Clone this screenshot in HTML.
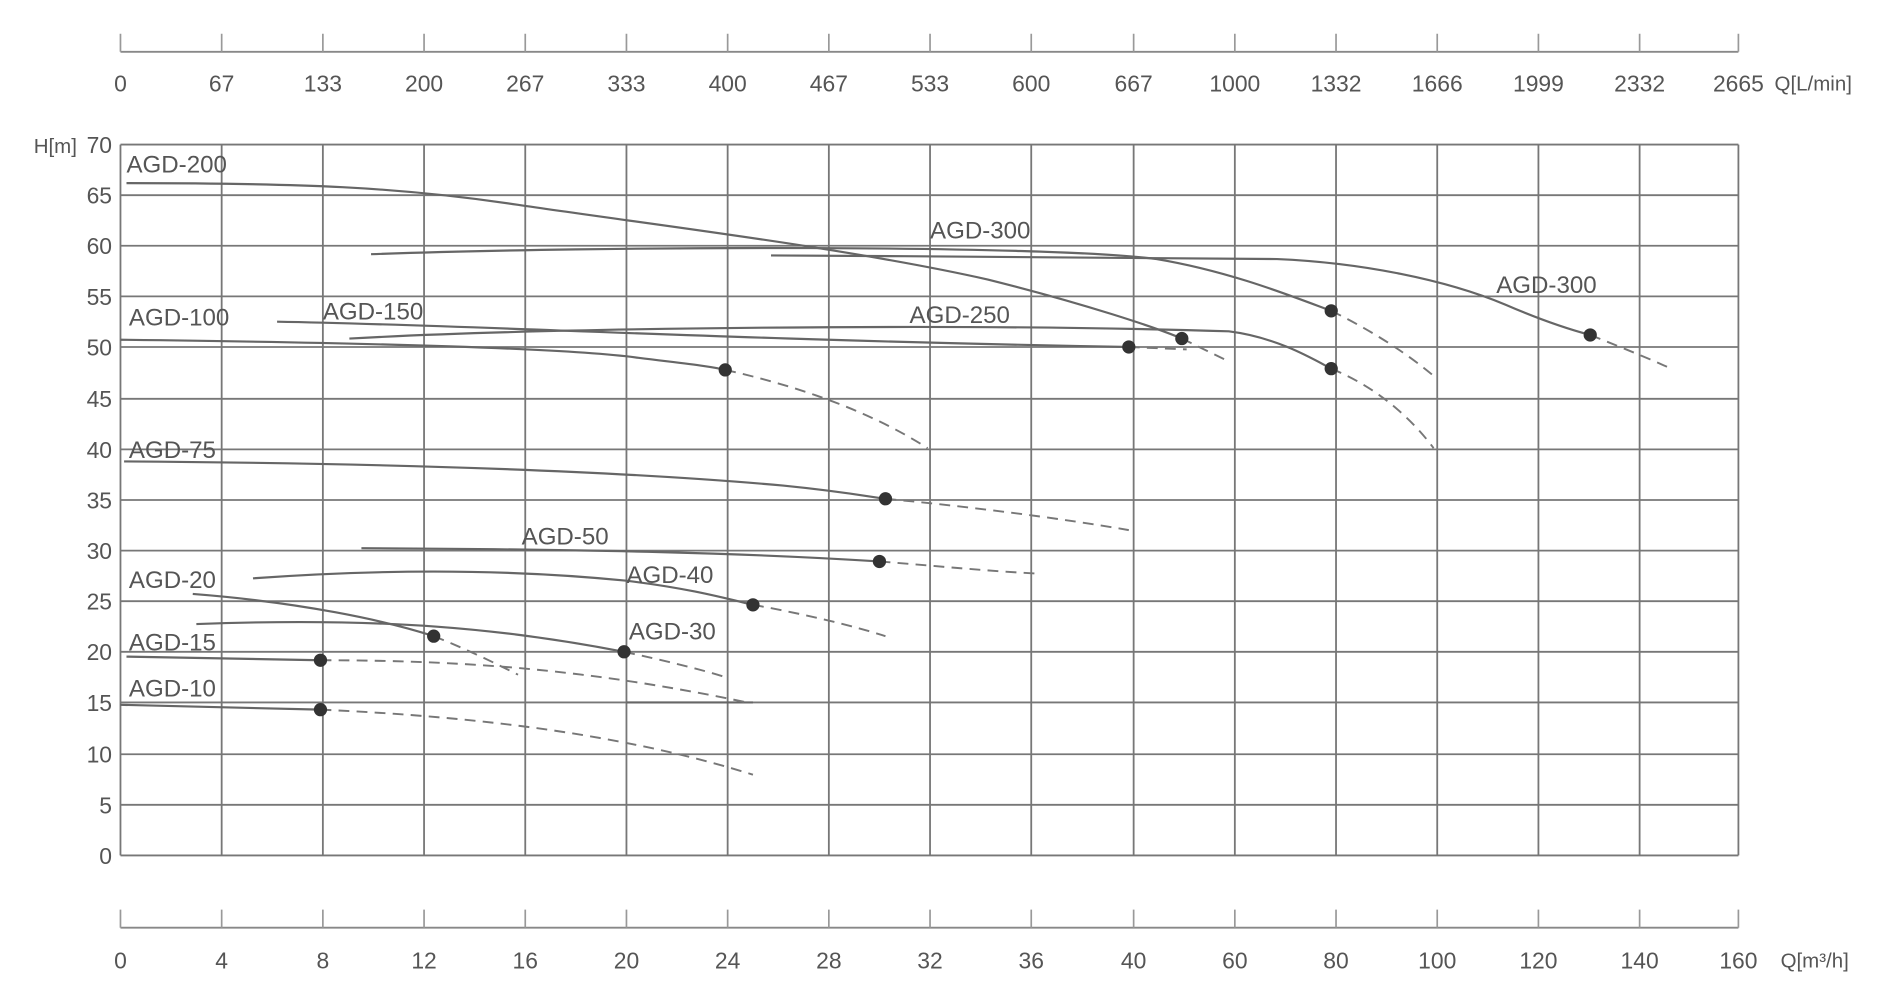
<!DOCTYPE html>
<html><head><meta charset="utf-8"><style>
html,body{margin:0;padding:0;background:#fff;}
svg{display:block;}
text{font-family:"Liberation Sans",sans-serif;fill:#555;}
</style></head><body>
<svg width="1889" height="1000" viewBox="0 0 1568 830" preserveAspectRatio="none" xmlns="http://www.w3.org/2000/svg">
<g stroke="#888" stroke-width="1.6" fill="none">
<line x1="100" y1="43" x2="1443" y2="43"/>
<line x1="100" y1="770" x2="1443" y2="770"/>
</g>
<g stroke="#999" stroke-width="1.4">
<path d="M100 43V28M184 43V28M268 43V28M352 43V28M436 43V28M520 43V28M604 43V28M688 43V28M772 43V28M856 43V28M941 43V28M1025 43V28M1109 43V28M1193 43V28M1277 43V28M1361 43V28M1443 43V28"/>
<path d="M100 770V755M184 770V755M268 770V755M352 770V755M436 770V755M520 770V755M604 770V755M688 770V755M772 770V755M856 770V755M941 770V755M1025 770V755M1109 770V755M1193 770V755M1277 770V755M1361 770V755M1443 770V755"/>
</g>
<g stroke="#777" stroke-width="1.5">
<path d="M100 120H1443M100 162H1443M100 204H1443M100 246H1443M100 288H1443M100 331H1443M100 373H1443M100 415H1443M100 457H1443M100 499H1443M100 541H1443M100 583H1443M100 626H1443M100 668H1443M100 710H1443"/>
<path d="M100 120V710M184 120V710M268 120V710M352 120V710M436 120V710M520 120V710M604 120V710M688 120V710M772 120V710M856 120V710M941 120V710M1025 120V710M1109 120V710M1193 120V710M1277 120V710M1361 120V710M1443 120V710"/>
</g>
<g font-size="19" text-anchor="middle">
<text x="100" y="76">0</text><text x="184" y="76">67</text><text x="268" y="76">133</text><text x="352" y="76">200</text><text x="436" y="76">267</text><text x="520" y="76">333</text><text x="604" y="76">400</text><text x="688" y="76">467</text><text x="772" y="76">533</text><text x="856" y="76">600</text><text x="941" y="76">667</text><text x="1025" y="76">1000</text><text x="1109" y="76">1332</text><text x="1193" y="76">1666</text><text x="1277" y="76">1999</text><text x="1361" y="76">2332</text><text x="1443" y="76">2665</text>
<text x="100" y="804">0</text><text x="184" y="804">4</text><text x="268" y="804">8</text><text x="352" y="804">12</text><text x="436" y="804">16</text><text x="520" y="804">20</text><text x="604" y="804">24</text><text x="688" y="804">28</text><text x="772" y="804">32</text><text x="856" y="804">36</text><text x="941" y="804">40</text><text x="1025" y="804">60</text><text x="1109" y="804">80</text><text x="1193" y="804">100</text><text x="1277" y="804">120</text><text x="1361" y="804">140</text><text x="1443" y="804">160</text>
</g>
<g font-size="19" text-anchor="end">
<text x="93" y="127">70</text><text x="93" y="169">65</text><text x="93" y="211">60</text><text x="93" y="253">55</text><text x="93" y="295">50</text><text x="93" y="338">45</text><text x="93" y="380">40</text><text x="93" y="422">35</text><text x="93" y="464">30</text><text x="93" y="506">25</text><text x="93" y="548">20</text><text x="93" y="590">15</text><text x="93" y="633">10</text><text x="93" y="675">5</text><text x="93" y="717">0</text>
</g>
<text x="28" y="127" font-size="17">H[m]</text>
<text x="1473" y="75" font-size="17">Q[L/min]</text>
<text x="1478" y="803" font-size="17">Q[m³/h]</text>
<g fill="none" stroke="#666" stroke-width="1.8">
<path d="M105 152C250 152 330 155 430 170C530 185 700 205 820 232C900 252 960 272 981 281"/>
<path d="M308 211C500 204 870 203 960 215C1020 225 1070 245 1105 258"/>
<path d="M640 212C800 213 1000 214 1060 215C1130 218 1200 232 1250 253C1280 266 1305 274 1320 278"/>
<path d="M290 281C450 272 800 268 1020 275C1060 280 1090 298 1105 306"/>
<path d="M230 267C400 270 600 282 937 288"/>
<path d="M100 282C350 285 480 290 530 297C570 302 590 304 602 307"/>
<path d="M103 383C400 385 560 395 650 403C700 408 720 412 735 414"/>
<path d="M300 455C500 456 620 459 730 466"/>
<path d="M210 480C350 470 450 475 520 482C570 488 600 496 625 502"/>
<path d="M163 518C320 512 420 522 518 541"/>
<path d="M160 493C250 500 320 515 360 528"/>
<path d="M105 545L266 548"/>
<path d="M100 585L266 589"/>
<path d="M520 583L625 583"/>
</g>
<g fill="none" stroke="#777" stroke-width="1.6" stroke-dasharray="9 6">
<path d="M981 281L1020 300"/>
<path d="M1105 258C1140 275 1170 295 1190 312"/>
<path d="M1320 278C1345 288 1365 296 1385 305"/>
<path d="M1105 306C1140 320 1170 345 1190 372"/>
<path d="M937 288L985 290"/>
<path d="M602 307C660 320 720 340 770 372"/>
<path d="M735 414C800 420 880 430 937 440"/>
<path d="M730 466C780 470 820 474 860 476"/>
<path d="M625 502C670 510 710 520 735 528"/>
<path d="M518 541C550 548 580 555 602 562"/>
<path d="M360 528C390 540 410 550 430 560"/>
<path d="M266 548C400 548 500 558 620 583"/>
<path d="M266 589C400 595 520 610 625 643"/>
</g>
<g fill="#333">
<circle cx="981" cy="281" r="5.5"/><circle cx="1105" cy="258" r="5.5"/><circle cx="1320" cy="278" r="5.5"/><circle cx="1105" cy="306" r="5.5"/><circle cx="937" cy="288" r="5.5"/><circle cx="602" cy="307" r="5.5"/><circle cx="735" cy="414" r="5.5"/><circle cx="730" cy="466" r="5.5"/><circle cx="625" cy="502" r="5.5"/><circle cx="518" cy="541" r="5.5"/><circle cx="360" cy="528" r="5.5"/><circle cx="266" cy="548" r="5.5"/><circle cx="266" cy="589" r="5.5"/>
</g>
<g font-size="20">
<text x="105" y="143">AGD-200</text><text x="772" y="198">AGD-300</text><text x="1242" y="243">AGD-300</text><text x="107" y="270">AGD-100</text><text x="268" y="265">AGD-150</text><text x="755" y="268">AGD-250</text><text x="107" y="380">AGD-75</text><text x="433" y="452">AGD-50</text><text x="520" y="484">AGD-40</text><text x="107" y="488">AGD-20</text><text x="522" y="531">AGD-30</text><text x="107" y="540">AGD-15</text><text x="107" y="578">AGD-10</text>
</g>
</svg>
</body></html>
